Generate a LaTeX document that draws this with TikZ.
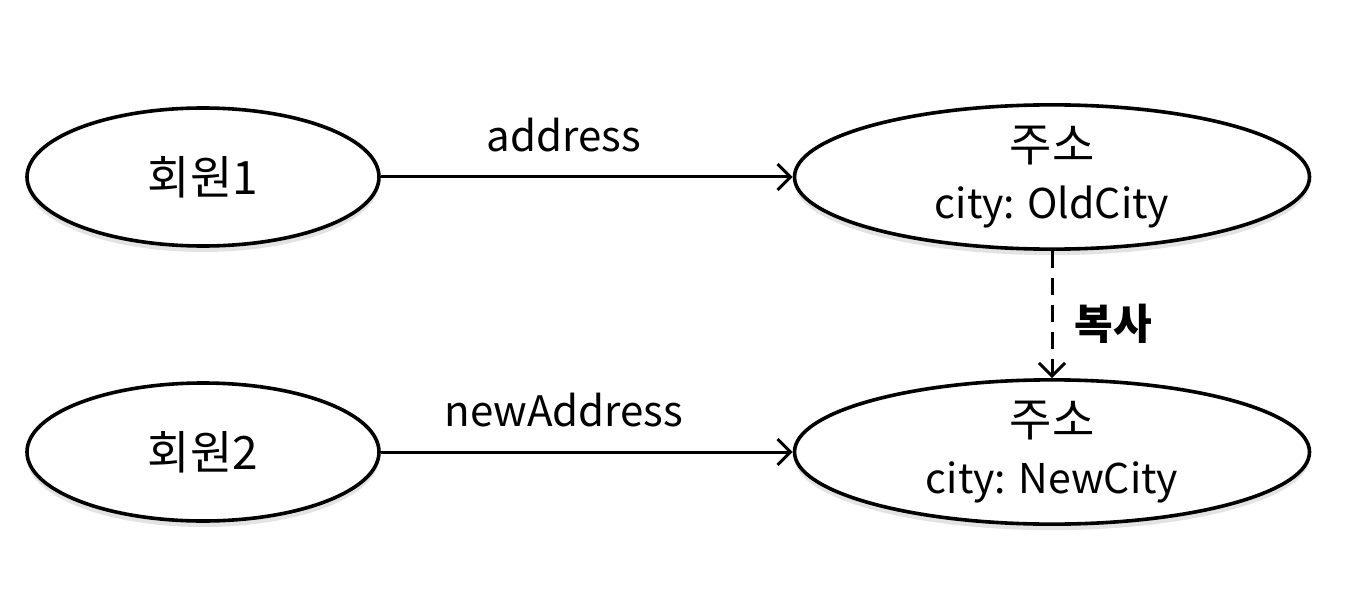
\documentclass[tikz,border=0pt]{standalone}
\usepackage{fontspec}
\setmainfont{Noto Sans CJK KR}
\usetikzlibrary{arrows.meta,shadows,shapes.geometric}
\newcommand{\kbig}[1]{{\fontsize{46}{55}\selectfont #1}}
\begin{document}
\begin{tikzpicture}[x=1pt,y=-1pt,
  obj/.style={draw=black,line width=3.6pt,ellipse,fill=white,inner sep=0pt,
    drop shadow={opacity=0.22,shadow xshift=0pt,shadow yshift=-6pt},
    align=center,font=\fontsize{41}{57}\selectfont},
  conn/.style={line width=3pt,-{Straight Barb[length=13pt,width=26pt,line width=3pt]}},
  lbl/.style={font=\fontsize{42}{50}\selectfont}
]
\useasboundingbox (0,0) rectangle (1372,596);
\node[obj,minimum width=352pt,minimum height=138pt] (m1) at (203,177) {\kbig{회원1}};
\node[obj,minimum width=515pt,minimum height=140pt] (a1) at (1052,177) {\kbig{주소}\\city: OldCity};
\node[obj,minimum width=352pt,minimum height=138pt] (m2) at (203,452) {\kbig{회원2}};
\node[obj,minimum width=515pt,minimum height=138pt] (a2) at (1052,452) {\kbig{주소}\\city: NewCity};
\draw[conn] (m1) -- (a1) node[lbl,midway,xshift=-23pt,yshift=42pt] {address};
\draw[conn] (m2) -- (a2) node[lbl,midway,xshift=-23pt,yshift=42pt] {newAddress};
\draw[conn,dashed,dash pattern=on 17pt off 10pt] (a1) -- (a2) node[midway,anchor=west,xshift=18pt,yshift=-9pt,font=\fontsize{42}{50}\selectfont\bfseries] {복사};
\end{tikzpicture}
\end{document}
